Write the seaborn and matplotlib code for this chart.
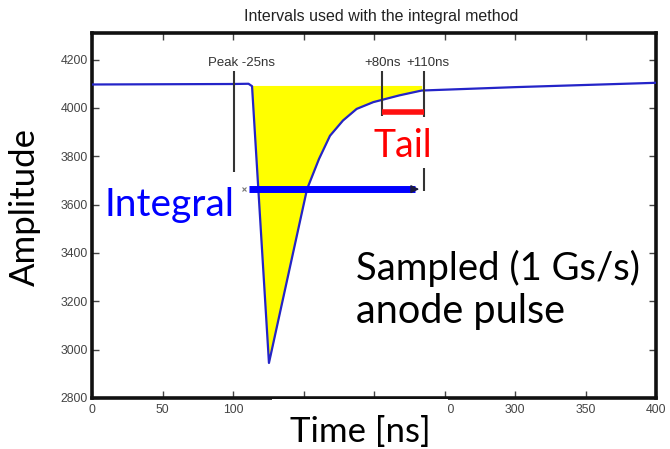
import matplotlib
matplotlib.use("Agg")
import matplotlib.pyplot as plt
from matplotlib.patches import Rectangle
import numpy as np
import pandas as pd
import seaborn as sns

# Sampled anode pulse (1 Gs/s), amplitude in ADC counts
time_ns = [0, 50, 100, 111, 113.5, 125.5, 152.5, 161, 168.8, 178, 187.7,
           199.5, 218, 233.8, 300, 350, 400]
amplitude = [4097, 4098, 4099, 4100, 4090, 2945, 3664, 3789, 3885, 3948, 3996,
             4024, 4052, 4072, 4086, 4095, 4104]

# Integration window definitions relative to the pulse peak
peak_time = 125.5
marker_offsets = [-25, 80, 110]
marker_labels = ["Peak -25ns", "+80ns", "+110ns"]
baseline_level = 4093

x_ticks = [0, 50, 100, 150, 200, 250, 300, 350, 400]
y_ticks = [2800, 3000, 3200, 3400, 3600, 3800, 4000, 4200]

W, H, DPI = 670, 449, 100
sns.set_theme(style="ticks")
plt.rcParams["font.family"] = ["Liberation Sans", "DejaVu Sans"]

fig = plt.figure(figsize=(W / DPI, H / DPI), dpi=DPI)
ax = fig.add_axes([92 / W, 1 - 398 / H, (656 - 92) / W, (398 - 33) / H])

df = pd.DataFrame({"Time": time_ns, "Amplitude": amplitude})

# Shaded integral region between the pulse and the baseline
t = np.array(time_ns, dtype=float)
a = np.array(amplitude, dtype=float)
t_start = time_ns[4]
t_end = peak_time + marker_offsets[2]
mask = (t >= t_start) & (t <= t_end)
ax.fill_between(t[mask], a[mask], baseline_level, color="#FFFF00", lw=0, zorder=1)

sns.lineplot(data=df, x="Time", y="Amplitude", ax=ax, color="#2424C8",
             lw=1.6, zorder=3)

ax.set_xlim(0, 400)
ax.set_ylim(2800, 4310)
ax.set_xticks(x_ticks)
ax.set_yticks(y_ticks)
ax.set_xlabel("")
ax.set_ylabel("")
ax.tick_params(direction="in", length=5, width=1, colors="#444444",
               labelsize=8.8, top=True, right=True, pad=3)
ax.tick_params(axis="x", pad=4)
for s in ax.spines.values():
    s.set_linewidth(2.6)
    s.set_color("#111111")

# Window marker lines
x_m = [peak_time + o for o in marker_offsets]
ax.vlines(x_m[0], 3735, 4154, color="#333333", lw=1.5, zorder=4)
ax.vlines(x_m[1], 3968, 4154, color="#333333", lw=1.5, zorder=4)
ax.vlines(x_m[2], 3963, 4154, color="#333333", lw=1.5, zorder=4)
ax.vlines(x_m[2], 3655, 3750, color="#333333", lw=1.5, zorder=4)
label_x = [106, 206, 238]
for lx, lab in zip(label_x, marker_labels):
    ax.text(lx, 4186, lab, ha="center", va="center", fontsize=9.5,
            color="#333333")

# Tail window
ax.hlines(3984, x_m[1], x_m[2], color="#FF1010", lw=4, zorder=5)

# Integral window arrow
ax.plot([108], [3664], marker="x", ms=3, color="#777777", mew=0.8, zorder=5)
ax.hlines(3664, 111, 229, color="#0000FF", lw=5, zorder=5)
ax.annotate("", xy=(234, 3664), xytext=(225, 3664),
            arrowprops=dict(arrowstyle="-|>", color="#1a1a40", lw=1,
                            mutation_scale=12), zorder=6)

fig.text(381 / W, 1 - 17 / H, "Intervals used with the integral method",
         ha="center", va="center", fontsize=11.5, color="#222222")

big = ["Lato", "DejaVu Sans"]
fig.text(25 / W, 1 - 207 / H, "Amplitude", rotation=90, ha="center",
         va="center", fontsize=25, color="black", family=big)
fig.text(170 / W, 1 - 205 / H, "Integral", ha="center", va="center",
         fontsize=28, color="#0000FF", family=big)
fig.text(403 / W, 1 - 146 / H, "Tail", ha="center", va="center",
         fontsize=27, color="#FF0000", family=big)
fig.text(356 / W, 1 - 268 / H, "Sampled (1 Gs/s)", ha="left", va="center",
         fontsize=27.5, color="black", family=big)
fig.text(356 / W, 1 - 312 / H, "anode pulse", ha="left", va="center",
         fontsize=28.5, color="black", family=big)

# Label panel over the lower axis
fig.patches.append(Rectangle((272 / W, 0), (448 - 272) / W, 50 / H,
                             transform=fig.transFigure, facecolor="white",
                             edgecolor="none", zorder=10))
fig.text(360 / W, 1 - 432 / H, "Time [ns]", ha="center", va="center",
         fontsize=25, color="black", family=big, zorder=11)

fig.savefig("out.png", dpi=DPI)
